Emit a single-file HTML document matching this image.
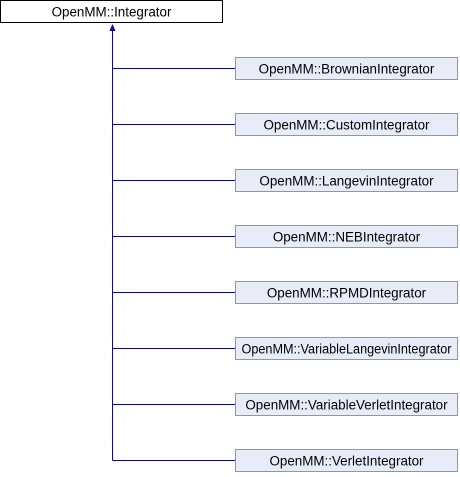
<!DOCTYPE html><html><head><style>body{margin:0;width:460px;height:472px;background:#fff;overflow:hidden}</style></head><body>
<svg width="460" height="472" xmlns="http://www.w3.org/2000/svg" font-family="Liberation Sans, sans-serif" font-size="13.4">
<rect x="0.5" y="0.5" width="222" height="22" fill="#fff" stroke="#000"/>
<text x="111.5" y="16.5" text-anchor="middle">OpenMM::Integrator</text>
<g stroke="#0a0a8c" stroke-width="1" fill="none">
<path d="M112.5 30V460.5"/>
<path d="M112.5 68.5H235M112.5 124.5H235M112.5 180.5H235M112.5 236.5H235M112.5 292.5H235M112.5 348.5H235M112.5 404.5H235M112.5 460.5H235"/>
</g>
<polygon points="112.5,24 109.5,31 115.5,31" fill="#0a0a8c"/>
<g fill="#e8ecf8" stroke="#8495c8">
<rect x="235.5" y="57.5" width="222" height="22"/>
<rect x="235.5" y="113.5" width="222" height="22"/>
<rect x="235.5" y="169.5" width="222" height="22"/>
<rect x="235.5" y="225.5" width="222" height="22"/>
<rect x="235.5" y="281.5" width="222" height="22"/>
<rect x="235.5" y="337.5" width="222" height="22"/>
<rect x="235.5" y="393.5" width="222" height="22"/>
<rect x="235.5" y="449.5" width="222" height="22"/>
</g>
<g text-anchor="middle" fill="#000">
<text x="346.5" y="73.5">OpenMM::BrownianIntegrator</text>
<text x="346.5" y="129.5">OpenMM::CustomIntegrator</text>
<text x="346.5" y="185.5">OpenMM::LangevinIntegrator</text>
<text x="346.5" y="241.5">OpenMM::NEBIntegrator</text>
<text x="346.5" y="297.5">OpenMM::RPMDIntegrator</text>
<text x="346.5" y="353.5" textLength="210" lengthAdjust="spacingAndGlyphs">OpenMM::VariableLangevinIntegrator</text>
<text x="346.5" y="409.5">OpenMM::VariableVerletIntegrator</text>
<text x="346.5" y="465.5">OpenMM::VerletIntegrator</text>
</g>
</svg>
</body></html>
